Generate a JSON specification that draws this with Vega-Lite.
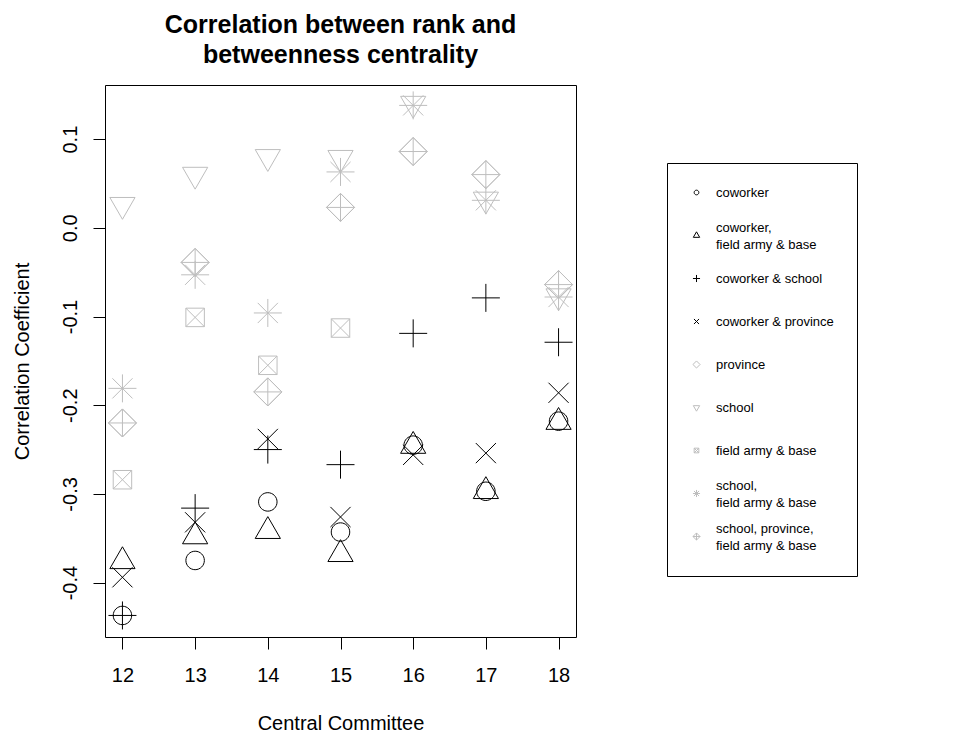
{
  "$schema": "https://vega.github.io/schema/vega-lite/v6.json",
  "width": 471,
  "height": 552,
  "autosize": {"type": "none"},
  "padding": {"left": 105, "top": 85, "right": 401, "bottom": 103},
  "background": "white",
  "config": {
    "font": "Liberation Sans",
    "view": {"stroke": "black", "strokeWidth": 1},
    "axis": {"grid": false, "domain": false, "tickColor": "black", "tickSize": 12, "labelColor": "black", "titleColor": "black", "labelFontSize": 20, "titleFontSize": 20, "titleFontWeight": "normal", "labelFont": "Liberation Sans", "titleFont": "Liberation Sans"},
    "legend": {
      "orient": "none",
      "strokeColor": "black",
      "fillColor": "white",
      "padding": 23,
      "gridAlign": "all",
      "rowPadding": 12,
      "symbolSize": 50,
      "symbolStrokeWidth": 1,
      "labelFontSize": 13,
      "labelColor": "black",
      "labelOffset": 13,
      "labelLimit": 400
    }
  },
  "title": {
    "text": ["Correlation between rank and", "betweenness centrality"],
    "fontSize": 25,
    "fontWeight": "bold",
    "font": "Liberation Sans",
    "color": "black",
    "anchor": "middle",
    "offset": 17,
    "lineHeight": 30
  },
  "data": {
    "values": [
      {"cc": 12, "series": "coworker", "r": -0.437},
      {"cc": 13, "series": "coworker", "r": -0.375},
      {"cc": 14, "series": "coworker", "r": -0.309},
      {"cc": 15, "series": "coworker", "r": -0.343},
      {"cc": 16, "series": "coworker", "r": -0.245},
      {"cc": 17, "series": "coworker", "r": -0.297},
      {"cc": 18, "series": "coworker", "r": -0.218},
      {"cc": 12, "series": "coworker, field army & base", "r": -0.376},
      {"cc": 13, "series": "coworker, field army & base", "r": -0.348},
      {"cc": 14, "series": "coworker, field army & base", "r": -0.342},
      {"cc": 15, "series": "coworker, field army & base", "r": -0.368},
      {"cc": 16, "series": "coworker, field army & base", "r": -0.246},
      {"cc": 17, "series": "coworker, field army & base", "r": -0.297},
      {"cc": 18, "series": "coworker, field army & base", "r": -0.219},
      {"cc": 12, "series": "coworker & school", "r": -0.437},
      {"cc": 13, "series": "coworker & school", "r": -0.316},
      {"cc": 14, "series": "coworker & school", "r": -0.250},
      {"cc": 15, "series": "coworker & school", "r": -0.267},
      {"cc": 16, "series": "coworker & school", "r": -0.119},
      {"cc": 17, "series": "coworker & school", "r": -0.079},
      {"cc": 18, "series": "coworker & school", "r": -0.129},
      {"cc": 12, "series": "coworker & province", "r": -0.394},
      {"cc": 13, "series": "coworker & province", "r": -0.332},
      {"cc": 14, "series": "coworker & province", "r": -0.238},
      {"cc": 15, "series": "coworker & province", "r": -0.326},
      {"cc": 16, "series": "coworker & province", "r": -0.256},
      {"cc": 17, "series": "coworker & province", "r": -0.254},
      {"cc": 18, "series": "coworker & province", "r": -0.186},
      {"cc": 12, "series": "province", "r": -0.220},
      {"cc": 13, "series": "province", "r": -0.039},
      {"cc": 14, "series": "province", "r": -0.185},
      {"cc": 15, "series": "province", "r": 0.023},
      {"cc": 16, "series": "province", "r": 0.086},
      {"cc": 17, "series": "province", "r": 0.060},
      {"cc": 18, "series": "province", "r": -0.064},
      {"cc": 12, "series": "school", "r": 0.026},
      {"cc": 13, "series": "school", "r": 0.060},
      {"cc": 14, "series": "school", "r": 0.080},
      {"cc": 15, "series": "school", "r": 0.079},
      {"cc": 16, "series": "school", "r": 0.140},
      {"cc": 17, "series": "school", "r": 0.032},
      {"cc": 18, "series": "school", "r": -0.077},
      {"cc": 12, "series": "field army & base", "r": -0.284},
      {"cc": 13, "series": "field army & base", "r": -0.101},
      {"cc": 14, "series": "field army & base", "r": -0.155},
      {"cc": 15, "series": "field army & base", "r": -0.113},
      {"cc": 12, "series": "school, field army & base", "r": -0.181},
      {"cc": 13, "series": "school, field army & base", "r": -0.053},
      {"cc": 14, "series": "school, field army & base", "r": -0.096},
      {"cc": 15, "series": "school, field army & base", "r": 0.063},
      {"cc": 16, "series": "school, field army & base", "r": 0.138},
      {"cc": 17, "series": "school, field army & base", "r": 0.031},
      {"cc": 18, "series": "school, field army & base", "r": -0.078},
      {"cc": 12, "series": "school, province, field army & base", "r": -0.220},
      {"cc": 13, "series": "school, province, field army & base", "r": -0.039},
      {"cc": 14, "series": "school, province, field army & base", "r": -0.185},
      {"cc": 15, "series": "school, province, field army & base", "r": 0.023},
      {"cc": 16, "series": "school, province, field army & base", "r": 0.086},
      {"cc": 17, "series": "school, province, field army & base", "r": 0.060},
      {"cc": 18, "series": "school, province, field army & base", "r": -0.064}
    ]
  },
  "mark": {"type": "point", "filled": false, "size": 784, "strokeWidth": 1, "opacity": 1},
  "encoding": {
    "x": {
      "field": "cc",
      "type": "quantitative",
      "scale": {"domain": [11.76, 18.24], "nice": false, "zero": false},
      "axis": {
        "values": [12, 13, 14, 15, 16, 17, 18],
        "format": "d",
        "title": "Central Committee",
        "labelPadding": 32,
        "labelBaseline": "alphabetic",
        "titleX": 235.5,
        "titleY": 92,
        "titleAlign": "center",
        "titleBaseline": "alphabetic"
      }
    },
    "y": {
      "field": "r",
      "type": "quantitative",
      "scale": {"domain": [-0.4613, 0.161], "nice": false, "zero": false},
      "axis": {
        "values": [-0.4, -0.3, -0.2, -0.1, 0, 0.1],
        "labelExpr": "replace(format(datum.value, '.1f'), '\u2212', '-')",
        "title": "Correlation Coefficient",
        "labelAngle": 270,
        "labelAlign": "center",
        "labelBaseline": "alphabetic",
        "labelPadding": 17,
        "titleAngle": 270,
        "titleX": -77,
        "titleY": 276,
        "titleAlign": "center",
        "titleBaseline": "alphabetic"
      }
    },
    "shape": {
      "field": "series",
      "type": "nominal",
      "scale": {
        "domain": ["coworker", "coworker, field army & base", "coworker & school", "coworker & province", "province", "school", "field army & base", "school, field army & base", "school, province, field army & base"],
        "range": [
          "M 0.66 0 A 0.66 0.66 0 1 1 -0.66 0 A 0.66 0.66 0 1 1 0.66 0 Z",
          "M0,-1.04L0.9,0.52L-0.9,0.52Z",
          "M-1,0L1,0M0,-1L0,1",
          "M-0.72,-0.72L0.72,0.72M-0.72,0.72L0.72,-0.72",
          "M0,-1L1,0L0,1L-1,0Z",
          "M0,1.04L0.9,-0.52L-0.9,-0.52Z",
          "M-0.66,-0.66L0.66,-0.66L0.66,0.66L-0.66,0.66ZM-0.66,-0.66L0.66,0.66M-0.66,0.66L0.66,-0.66",
          "M-1,0L1,0M0,-1L0,1M-0.72,-0.72L0.72,0.72M-0.72,0.72L0.72,-0.72",
          "M0,-1L1,0L0,1L-1,0ZM-1,0L1,0M0,-1L0,1"
        ]
      },
      "legend": {
        "title": null,
        "legendX": 562,
        "legendY": 78,
        "labelExpr": "indexof(datum.label, ', field') > 0 ? [slice(datum.label, 0, indexof(datum.label, ', field') + 1), '\u00a0field army & base'] : datum.label",
        "encoding": {"labels": {"lineHeight": {"value": 17}, "dy": {"value": {"expr": "indexof(datum.label, ', field') > 0 ? -8 : 0"}}}}
      }
    },
    "color": {
      "field": "series",
      "type": "nominal",
      "scale": {
        "domain": ["coworker", "coworker, field army & base", "coworker & school", "coworker & province", "province", "school", "field army & base", "school, field army & base", "school, province, field army & base"],
        "range": ["black", "black", "black", "black", "#bebebe", "#bebebe", "#bebebe", "#bebebe", "#bebebe"]
      },
      "legend": {
        "title": null,
        "legendX": 562,
        "legendY": 78,
        "labelExpr": "indexof(datum.label, ', field') > 0 ? [slice(datum.label, 0, indexof(datum.label, ', field') + 1), '\u00a0field army & base'] : datum.label",
        "encoding": {"labels": {"lineHeight": {"value": 17}, "dy": {"value": {"expr": "indexof(datum.label, ', field') > 0 ? -8 : 0"}}}}
      }
    }
  }
}
